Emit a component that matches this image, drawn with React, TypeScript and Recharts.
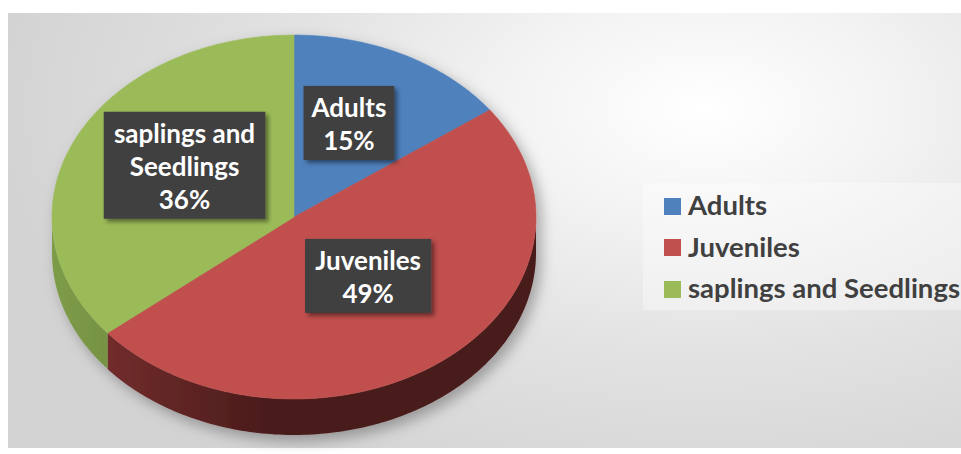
import React from 'react';
import { PieChart, Pie, Cell, Legend } from 'recharts';

const categories = ['Adults', 'Juveniles', 'saplings and Seedlings'];
const shares = [15, 49, 36];
const colors = ['#4f81bd', '#c0504d', '#9bbb59'];
const sideLight = ['#3b6290', '#7f3331', '#7d9c48'];
const sideDark = ['#2a4569', '#4a1b1b', '#62793a'];

const data = categories.map((name, i) => ({ name, value: shares[i] }));

const W = 961;
const H = 454;
const CX = 294;
const CY = 217;
const R = 242;
const TILT = 0.752;
const DEPTH = 36;
const FONT = 'Lato, "Open Sans", "DejaVu Sans", sans-serif';

function ellPt(cx: number, cy: number, rx: number, ry: number, deg: number, dy = 0): [number, number] {
  const t = (deg * Math.PI) / 180;
  return [cx + rx * Math.cos(t), cy - ry * Math.sin(t) + dy];
}

function arcPts(cx: number, cy: number, rx: number, ry: number, a0: number, a1: number, dy = 0) {
  const n = Math.max(2, Math.ceil(Math.abs(a1 - a0)));
  const pts: [number, number][] = [];
  for (let i = 0; i <= n; i++) {
    const a = a0 + ((a1 - a0) * i) / n;
    pts.push(ellPt(cx, cy, rx, ry, a, dy));
  }
  return pts;
}

const toPath = (pts: [number, number][]) =>
  pts.map((p, i) => `${i === 0 ? 'M' : 'L'}${p[0].toFixed(2)},${p[1].toFixed(2)}`).join(' ') + ' Z';

const SectorShape = (props: any) => {
  const { cx, cy, outerRadius, startAngle, endAngle, fill } = props;
  const idx = Math.max(0, colors.indexOf(fill));
  const rx = outerRadius;
  const ry = outerRadius * TILT;
  const lo = Math.min(startAngle, endAngle);
  const hi = Math.max(startAngle, endAngle);
  const sides: React.ReactNode[] = [];
  [-720, -360, 0, 360].forEach((off, k) => {
    const s0 = Math.max(lo, -180 + off);
    const s1 = Math.min(hi, 0 + off);
    if (s1 > s0) {
      const top = arcPts(cx, cy, rx, ry, s1, s0, 0);
      const bot = arcPts(cx, cy, rx, ry, s0, s1, DEPTH);
      sides.push(<path key={k} d={toPath([...top, ...bot])} fill={`url(#side${idx})`} />);
    }
  });
  const topPts: [number, number][] = [[cx, cy], ...arcPts(cx, cy, rx, ry, startAngle, endAngle)];
  return (
    <g>
      {sides}
      <path d={toPath(topPts)} fill={fill} stroke={fill} strokeWidth={0.6} />
    </g>
  );
};

function wrap(text: string, max = 12) {
  const words = text.split(' ');
  const lines: string[] = [];
  let cur = '';
  words.forEach((w) => {
    const next = cur ? cur + ' ' + w : w;
    if (next.length > max && cur) {
      lines.push(cur);
      cur = w;
    } else cur = next;
  });
  if (cur) lines.push(cur);
  return lines;
}

const renderLabel = (props: any) => {
  const { cx, cy, midAngle, outerRadius, percent, name } = props;
  const rx = outerRadius;
  const ry = outerRadius * TILT;
  const k = 0.5;
  const t = (midAngle * Math.PI) / 180;
  const x = cx + k * rx * Math.cos(t);
  const y = cy - k * ry * Math.sin(t) - 13;
  const lines = [...wrap(name), `${Math.round(percent * 100)}%`];
  const maxLen = Math.max(...lines.map((l) => l.length));
  const bw = maxLen * 11.8 + 20;
  const bh = 41 + 33 * (lines.length - 1);
  const left = x - bw / 2;
  const top = y - bh / 2;
  return (
    <g>
      <rect x={left} y={top} width={bw} height={bh} fill="#404040" filter="url(#lblShadow)" />
      {lines.map((l, i) => (
        <text
          key={i}
          x={x}
          y={top + 31 + 33 * i}
          textAnchor="middle"
          fill="#ffffff"
          fontFamily={FONT}
          fontWeight={700}
          fontSize={26}
        >
          {l}
        </text>
      ))}
    </g>
  );
};

const renderLegend = (props: any) => {
  const { payload } = props;
  return (
    <div style={{ width: 318, height: 127, background: 'rgba(255,255,255,0.35)', position: 'relative' }}>
      {(payload || []).map((p: any, i: number) => (
        <div
          key={i}
          style={{
            position: 'absolute',
            left: 21,
            top: 7 + i * 41.5,
            height: 30,
            display: 'flex',
            alignItems: 'center',
            whiteSpace: 'nowrap',
          }}
        >
          <span style={{ display: 'inline-block', width: 17, height: 17, background: p.color, marginRight: 7, marginTop: 2 }} />
          <span style={{ fontFamily: FONT, fontWeight: 700, fontSize: 27.5, color: '#404040', lineHeight: '30px' }}>
            {p.value}
          </span>
        </div>
      ))}
    </div>
  );
};

export default function App() {
  return (
    <div style={{ position: 'absolute', left: 0, top: 0, width: W, height: H, background: '#ffffff', overflow: 'hidden' }}>
      <style>{`.recharts-pie { filter: url(#pieShadow); } .recharts-legend-wrapper { overflow: hidden; }`}</style>
      <div
        style={{
          position: 'absolute',
          left: 8,
          top: 13,
          width: W - 8,
          height: 435,
          background:
            'radial-gradient(ellipse 75% 95% at 73% 22%, #ffffff 0%, #f4f4f4 25%, #e2e2e2 60%, #d3d3d3 100%)',
        }}
      />
      <svg width={0} height={0} style={{ position: 'absolute' }}>
        <defs>
          {colors.map((c, i) => (
            <linearGradient key={i} id={`side${i}`} gradientUnits="userSpaceOnUse" x1={CX - R} y1={0} x2={CX + R} y2={0}>
              <stop offset="0%" stopColor={sideLight[i]} />
              <stop offset="45%" stopColor={sideDark[i]} />
              <stop offset="100%" stopColor={sideDark[i]} />
            </linearGradient>
          ))}
          <filter id="pieShadow" x="-20%" y="-20%" width="140%" height="150%">
            <feDropShadow dx={5} dy={6} stdDeviation={7} floodColor="#000000" floodOpacity={0.3} />
          </filter>
          <filter id="lblShadow" x="-20%" y="-20%" width="150%" height="150%">
            <feDropShadow dx={3} dy={3} stdDeviation={2} floodColor="#000000" floodOpacity={0.45} />
          </filter>
        </defs>
      </svg>
      <div style={{ position: 'absolute', left: 0, top: 0 }}>
        <PieChart width={W} height={H} margin={{ top: 0, right: 0, bottom: 0, left: 0 }}>
          <Pie
            data={data}
            dataKey="value"
            nameKey="name"
            cx={CX}
            cy={CY}
            outerRadius={R}
            startAngle={90}
            endAngle={-270}
            stroke="none"
            isAnimationActive={false}
            shape={SectorShape}
            label={renderLabel}
            labelLine={false}
          >
            {data.map((d, i) => (
              <Cell key={d.name} fill={colors[i]} />
            ))}
          </Pie>
          <Legend
            layout="vertical"
            align="right"
            verticalAlign="middle"
            content={renderLegend}
            wrapperStyle={{ position: 'absolute', left: 643, top: 183, width: 318, height: 127 }}
          />
        </PieChart>
      </div>
    </div>
  );
}
